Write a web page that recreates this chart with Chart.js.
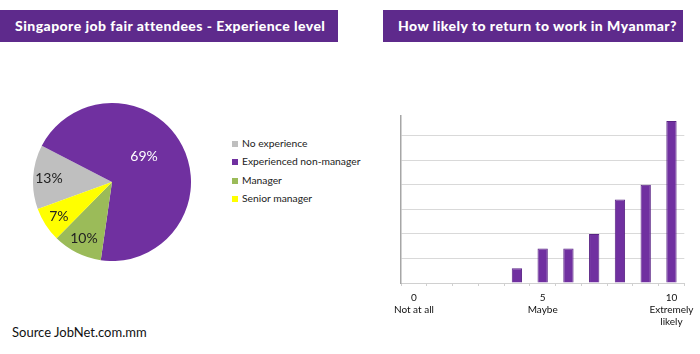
<!DOCTYPE html>
<html>
<head>
<meta charset="utf-8">
<script src="https://cdn.jsdelivr.net/npm/chart.js@4"></script>
<style>
  html, body { margin:0; padding:0; background:#fff; }
  body { width:700px; height:354px; position:relative; overflow:hidden; font-family: Lato, "Liberation Sans", sans-serif; }
  .bar { position:absolute; top:10px; height:32px; background:#5e2a8c; color:#fff; font-weight:900; font-size:14px; letter-spacing:0.45px; line-height:32px; white-space:nowrap; }
  #t1 { left:0; width:338px; padding-left:15px; box-sizing:border-box; }
  #t2 { left:383px; width:300px; padding-left:15px; box-sizing:border-box; }
  #pieWrap { position:absolute; left:33px; top:103px; width:158px; height:158px; }
  #barWrap { position:absolute; left:380px; top:100px; width:320px; height:254px; }
  #legend { position:absolute; left:232px; top:135px; font-family: Lato, "Liberation Sans", sans-serif; font-size:10.3px; color:#222; }
  #legend div { height:18.3px; line-height:16px; white-space:nowrap; }
  #legend span { display:inline-block; width:6px; height:6px; margin-right:4px; vertical-align:0px; }
  #source { position:absolute; left:12px; top:324px; font-size:13px; color:#111; }
</style>
</head>
<body>
<div class="bar" id="t1">Singapore job fair attendees - Experience level</div>
<div class="bar" id="t2">How likely to return to work in Myanmar?</div>
<div id="pieWrap"><canvas id="pie"></canvas></div>
<div id="legend"></div>
<div id="barWrap"><canvas id="bars"></canvas></div>
<div id="source">Source JobNet.com.mm</div>
<script>
// ---- Pie data ----
const pieLabels = ["No experience", "Experienced non-manager", "Manager", "Senior manager"];
const pieValues = [13, 69, 10, 7];
const pieColors = ["#bfbfbf", "#7030a0", "#9bbb59", "#ffff00"];
const pieLabelColors = ["#222", "#fff", "#222", "#222"];

// ---- Bar data ----
const barCategories = ["0","1","2","3","4","5","6","7","8","9","10"];
const barTickLabels = [["0","Not at all"],"","","","",["5","Maybe"],"","","","",["10","Extremely","likely"]];
const barValues = [0, 0, 0, 0, 3, 7, 7, 10, 17, 20, 33];

// HTML legend from the arrays
const lg = document.getElementById('legend');
pieLabels.forEach((l, i) => {
  const d = document.createElement('div');
  d.innerHTML = '<span style="background:' + pieColors[i] + '"></span>' + l;
  lg.appendChild(d);
});

const pctLabels = {
  id: 'pctLabels',
  afterDatasetsDraw(chart) {
    const ctx = chart.ctx;
    const meta = chart.getDatasetMeta(0);
    const factors = [0.8, 0.52, 0.8, 0.8];
    const shifts = [0, -0.2, 0, 0];
    meta.data.forEach((arc, i) => {
      const p = arc.getProps(['startAngle', 'endAngle', 'outerRadius', 'x', 'y'], true);
      const mid = (p.startAngle + p.endAngle) / 2 + shifts[i];
      const r = p.outerRadius * factors[i];
      ctx.save();
      ctx.font = '14px Lato, "Liberation Sans", sans-serif';
      ctx.fillStyle = pieLabelColors[i];
      ctx.textAlign = 'center';
      ctx.textBaseline = 'middle';
      ctx.fillText(pieValues[i] + '%', p.x + Math.cos(mid) * r, p.y + Math.sin(mid) * r);
      ctx.restore();
    });
  }
};

new Chart(document.getElementById('pie'), {
  type: 'pie',
  data: { labels: pieLabels, datasets: [{ data: pieValues, backgroundColor: pieColors, borderWidth: 0 }] },
  options: {
    responsive: true, maintainAspectRatio: false, animation: false,
    rotation: 250,
    layout: { padding: 0 },
    plugins: { legend: { display: false }, tooltip: { enabled: false } }
  },
  plugins: [pctLabels]
});

new Chart(document.getElementById('bars'), {
  type: 'bar',
  data: { labels: barCategories, datasets: [{ data: barValues, backgroundColor: '#7030a0', borderColor: '#5a2485', borderWidth: 1, barPercentage: 0.4, categoryPercentage: 1 }] },
  options: {
    responsive: true, maintainAspectRatio: false, animation: false,
    layout: { padding: { left: 21, right: 11, top: 16, bottom: 20 } },
    plugins: { legend: { display: false }, tooltip: { enabled: false } },
    scales: {
      x: {
        grid: { display: true, drawOnChartArea: false, drawTicks: true, tickLength: 3, color: '#d0d0d0', offset: true },
        border: { display: true, color: '#d0d0d0', width: 1 },
        ticks: {
          autoSkip: false, maxRotation: 0, padding: 6, color: '#111',
          font: { family: 'Lato, "Liberation Sans", sans-serif', size: 10 },
          callback: (v, i) => barTickLabels[i]
        }
      },
      y: {
        min: 0, max: 34,
        ticks: { display: false, stepSize: 5 },
        grid: { drawTicks: false, color: (c) => (c.tick && c.tick.value % 5 === 0 && c.tick.value > 0) ? '#d9d9d9' : 'rgba(0,0,0,0)' },
        border: { display: true, color: '#a6a6a6', width: 1.5 }
      }
    }
  }
});
</script>
</body>
</html>
